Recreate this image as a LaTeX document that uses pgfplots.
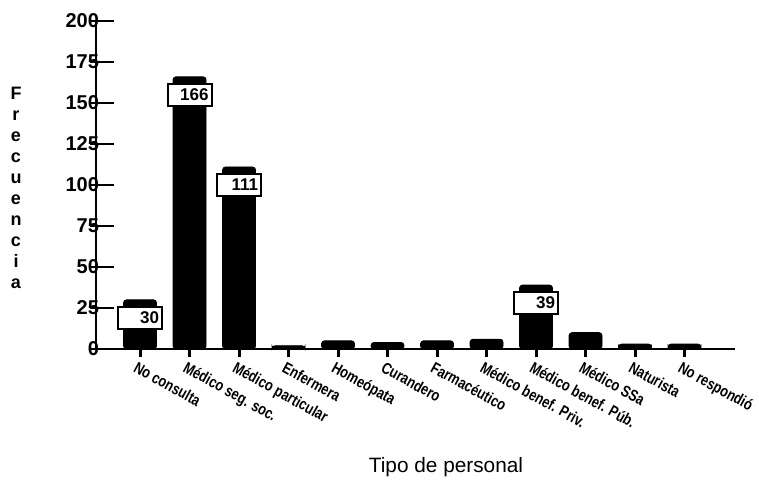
\documentclass[border=0pt]{standalone}
\usepackage{pgfplots}
\pgfplotsset{compat=1.18}
\pgfplotsset{/pgf/number format/assume math mode=true}
\usepackage{fontspec}
\setmainfont{Liberation Sans}
\newfontfamily\narrowfont[FakeStretch=0.8]{Liberation Sans}
\begin{document}
\begin{tikzpicture}
\useasboundingbox (0,0) rectangle (379.5pt,239.5pt);
\begin{axis}[
  at={(48pt,65pt)}, anchor=south west, scale only axis,
  width=319.5pt, height=164pt,
  xmin=-0.89, xmax=12.02, ymin=0, ymax=200,
  axis lines=left, axis line style={-, line width=1.2pt},
  xtick={0,...,11},
  xticklabels={No consulta, Médico seg. soc., Médico particular, Enfermera, Homeópata, Curandero, Farmacéutico, Médico benef. Priv., Médico benef. Púb., Médico SSa, Naturista, No respondió},
  xticklabel style={font=\narrowfont\bfseries\fontsize{8}{8}\selectfont, rotate=-29, anchor=north west, inner sep=0pt, xshift=0pt, yshift=-2pt},
  tick align=outside, major tick length=4pt,
  x tick style={line width=1.5pt, black},
  ytick=\empty,
  clip=false,
]
\addplot[ybar, bar width=16.5pt, bar shift=0pt, fill=black, draw=black, rounded corners=1.5pt]
  coordinates {(0,30) (1,166) (2,111) (3,2) (4,5) (5,4) (6,5) (7,6) (8,39) (9,10) (10,3) (11,3)};
\addplot[ybar, bar width=16.5pt, bar shift=0pt, draw=none, fill=none,
  nodes near coords,
  every node near coord/.append style={anchor=center, yshift=-9pt, fill=white, draw=black, line width=1pt, inner sep=1.5pt, text width=19pt, align=right, minimum height=11pt, font=\bfseries\fontsize{8.5}{9}\selectfont}]
  coordinates {(0,30) (1,166) (2,111) (8,39)};
\end{axis}
\begin{axis}[
  at={(48pt,65pt)}, anchor=south west, scale only axis,
  width=319.5pt, height=164pt,
  xmin=-0.89, xmax=12.02, ymin=0, ymax=200,
  hide x axis, axis y line*=left, axis line style={-, line width=1.2pt},
  ytick={0,25,...,200},
  tick align=center, major tick length=12pt,
  y tick style={xshift=3pt, line width=1.2pt, black},
  yticklabel style={font=\bfseries\fontsize{10}{11}\selectfont, xshift=11pt},
]
\addplot[draw=none] coordinates {(0,0)};
\end{axis}
\node[font=\bfseries\fontsize{9}{10.5}\selectfont, align=center] at (8pt,145.5pt) {F\\r\\e\\c\\u\\e\\n\\c\\i\\a};
\node[font=\fontsize{10.4}{12}\selectfont] at (223pt,6pt) {Tipo de personal};
\end{tikzpicture}
\end{document}
